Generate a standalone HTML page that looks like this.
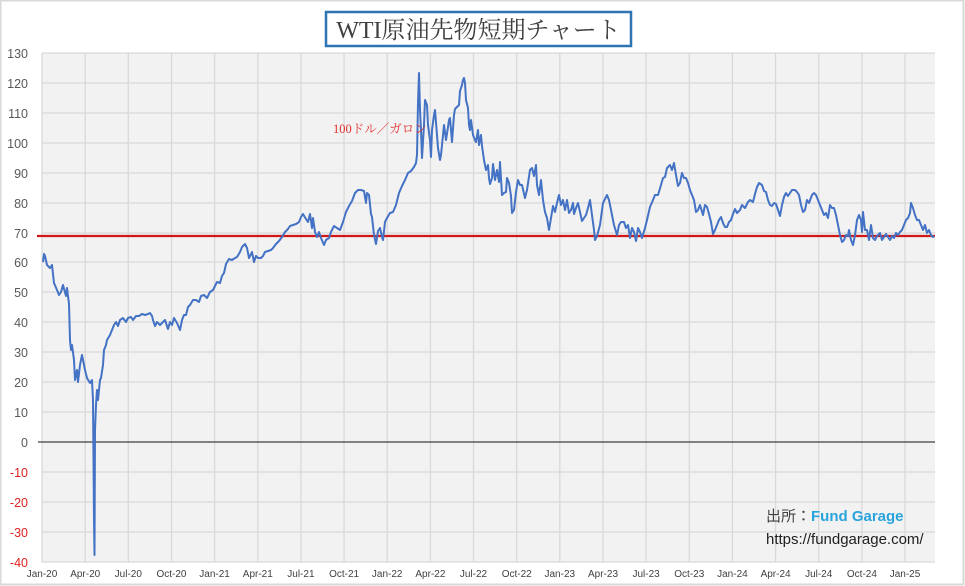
<!DOCTYPE html>
<html><head><meta charset="utf-8"><style>
html,body{margin:0;padding:0;background:#fff;}
svg{display:block;}
</style></head><body>
<svg width="965" height="586" viewBox="0 0 965 586" xmlns="http://www.w3.org/2000/svg">
<rect x="0.5" y="0.5" width="963" height="584" fill="#fff" stroke="#d9d9d9" stroke-width="2"/>
<rect x="42" y="53" width="893" height="509" fill="#f2f2f2"/>
<g stroke="#d9d9d9" stroke-width="1.3">
<line x1="42" y1="53" x2="935" y2="53"/><line x1="42" y1="83" x2="935" y2="83"/><line x1="42" y1="113" x2="935" y2="113"/><line x1="42" y1="143" x2="935" y2="143"/><line x1="42" y1="173" x2="935" y2="173"/><line x1="42" y1="203" x2="935" y2="203"/><line x1="42" y1="233" x2="935" y2="233"/><line x1="42" y1="262" x2="935" y2="262"/><line x1="42" y1="292" x2="935" y2="292"/><line x1="42" y1="322" x2="935" y2="322"/><line x1="42" y1="352" x2="935" y2="352"/><line x1="42" y1="382" x2="935" y2="382"/><line x1="42" y1="412" x2="935" y2="412"/><line x1="42" y1="472" x2="935" y2="472"/><line x1="42" y1="502" x2="935" y2="502"/><line x1="42" y1="532" x2="935" y2="532"/><line x1="42" y1="562" x2="935" y2="562"/>
<line x1="42" y1="53" x2="42" y2="562"/><line x1="85.2" y1="53" x2="85.2" y2="562"/><line x1="128.3" y1="53" x2="128.3" y2="562"/><line x1="171.5" y1="53" x2="171.5" y2="562"/><line x1="214.6" y1="53" x2="214.6" y2="562"/><line x1="257.8" y1="53" x2="257.8" y2="562"/><line x1="300.9" y1="53" x2="300.9" y2="562"/><line x1="344.1" y1="53" x2="344.1" y2="562"/><line x1="387.2" y1="53" x2="387.2" y2="562"/><line x1="430.4" y1="53" x2="430.4" y2="562"/><line x1="473.5" y1="53" x2="473.5" y2="562"/><line x1="516.7" y1="53" x2="516.7" y2="562"/><line x1="559.8" y1="53" x2="559.8" y2="562"/><line x1="603" y1="53" x2="603" y2="562"/><line x1="646.1" y1="53" x2="646.1" y2="562"/><line x1="689.3" y1="53" x2="689.3" y2="562"/><line x1="732.4" y1="53" x2="732.4" y2="562"/><line x1="775.6" y1="53" x2="775.6" y2="562"/><line x1="818.7" y1="53" x2="818.7" y2="562"/><line x1="861.9" y1="53" x2="861.9" y2="562"/><line x1="905" y1="53" x2="905" y2="562"/>
</g>
<line x1="38" y1="442" x2="935" y2="442" stroke="#404040" stroke-width="1.2"/>
<g font-family="Liberation Sans, sans-serif" font-size="12.5" text-anchor="end" fill="#595959">
<text x="28" y="58">130</text><text x="28" y="88">120</text><text x="28" y="118">110</text><text x="28" y="148">100</text><text x="28" y="178">90</text><text x="28" y="208">80</text><text x="28" y="238">70</text><text x="28" y="267">60</text><text x="28" y="297">50</text><text x="28" y="327">40</text><text x="28" y="357">30</text><text x="28" y="387">20</text><text x="28" y="417">10</text><text x="28" y="447">0</text>
<g fill="#e02020"><text x="28" y="477">-10</text><text x="28" y="507">-20</text><text x="28" y="537">-30</text><text x="28" y="567">-40</text></g>
</g>
<g font-family="Liberation Sans, sans-serif" font-size="10" text-anchor="middle" fill="#404040">
<text x="42" y="577">Jan-20</text><text x="85.2" y="577">Apr-20</text><text x="128.3" y="577">Jul-20</text><text x="171.5" y="577">Oct-20</text><text x="214.6" y="577">Jan-21</text><text x="257.8" y="577">Apr-21</text><text x="300.9" y="577">Jul-21</text><text x="344.1" y="577">Oct-21</text><text x="387.2" y="577">Jan-22</text><text x="430.4" y="577">Apr-22</text><text x="473.5" y="577">Jul-22</text><text x="516.7" y="577">Oct-22</text><text x="559.8" y="577">Jan-23</text><text x="603" y="577">Apr-23</text><text x="646.1" y="577">Jul-23</text><text x="689.3" y="577">Oct-23</text><text x="732.4" y="577">Jan-24</text><text x="775.6" y="577">Apr-24</text><text x="818.7" y="577">Jul-24</text><text x="861.9" y="577">Oct-24</text><text x="905" y="577">Jan-25</text>
</g>
<line x1="37" y1="236" x2="935" y2="236" stroke="#d01818" stroke-width="2.2"/>
<polyline fill="none" stroke="#4472c4" stroke-width="2" stroke-linejoin="round" points="43,262 44,254 45,256 47,265 50,268 52,265 54,283 57,290 59,295 61,292 63,285 66,296 67,288 69,304 70,340 71,350 72,345 74,360 75,380 77,370 78,382 80,365 82,355 83,360 85,370 87,378 90,383 92,380 93,400 94,520 94.5,555 95,430 96,405 97,390 98,400 100,380 101,378 103,365 104,350 106,345 107,340 110,335 112,330 114,325 116,322 118,326 120,320 123,318 126,322 128,318 131,317 133,320 136,316 139,316 142,314 145,315 148,314 150,313 152,316 153,320 155,326 157,322 160,325 163,322 165,320 168,329 170,322 172,325 174,318 177,323 180,330 182,320 184,315 186,315 188,307 190,305 193,300 196,300 199,302 201,296 204,295 207,298 210,292 213,290 217,282 220,283 222,276 224,273 226,264 229,259 232,260 235,258 237,257 240,252 242,247 245,244 247,248 249,258 252,252 254,262 256,256 258,258 261,258 263,256 265,252 268,251 271,250 273,248 276,244 279,241 282,237 285,232 288,229 290,226 293,225 296,224 299,222 301,217 303,214 306,219 308,222 310,214 312,228 313,218 315,232 317,237 319,232 321,238 324,245 326,240 329,238 331,232 334,226 337,228 340,230 343,222 346,212 349,206 352,201 355,193 358,190 361,190 364,191 366,203 367,193 369,195 371,214 372,217 374,235 376,244 378,231 380,228 382,237 383,240 385,222 387,218 390,213 393,212 396,205 399,193 402,186 405,180 408,173 411,171 414,167 416,163 417,155 418,103 419,73 420,110 421,130 422,158 424,125 425,100 427,105 428,125 430,140 431,157 432,130 434,115 435,110 437,135 438,148 440,160 441,155 442,145 443,135 444,125 446,140 448,127 449,120 450,118 451,130 452,142 454,115 455,109 457,107 459,105 460,91 462,85 463,80 464,78 465,83 466,100 468,108 469,125 470,130 471,120 473,135 475,140 476,142 478,130 479,145 481,135 482,146 484,160 486,170 488,165 489,178 490,184 492,178 493,164 495,180 497,170 499,182 500,162 502,195 504,193 506,192 507,178 509,183 511,196 512,213 514,210 516,192 518,180 520,185 522,185 525,198 527,190 530,170 532,168 534,176 536,165 537,185 539,195 541,180 543,200 545,212 547,218 549,230 551,218 553,206 555,212 557,203 559,195 561,205 563,200 565,210 567,200 569,213 571,210 573,203 574,214 576,208 578,203 580,212 582,221 584,218 586,215 588,208 590,200 592,215 594,230 595,240 597,236 600,225 603,203 607,195 609,200 611,210 614,225 617,235 619,225 621,222 624,222 626,228 628,225 630,238 632,228 634,232 636,241 638,228 640,232 642,238 645,228 647,220 650,207 653,200 655,195 658,195 661,185 663,178 665,177 667,168 670,165 672,170 674,163 676,175 678,186 680,183 682,173 684,178 686,178 688,183 690,190 692,195 694,200 696,212 698,210 700,205 703,215 705,205 707,207 709,214 711,222 713,234 715,230 717,225 719,220 721,217 723,223 725,227 727,227 729,222 731,220 733,214 735,209 737,213 740,210 742,205 745,208 748,202 750,200 753,202 755,194 757,187 759,183 762,185 764,191 766,192 768,200 770,205 772,206 774,203 776,204 778,210 780,216 782,205 784,197 786,193 788,196 790,193 792,190 795,190 797,192 799,195 801,205 803,212 805,210 807,200 809,203 812,195 814,193 816,195 818,200 820,205 822,210 824,215 826,213 828,218 830,205 832,208 834,208 836,215 838,225 840,235 842,242 844,240 846,235 848,236 849,230 851,240 853,245 855,235 857,220 859,215 861,220 862,232 863,212 865,230 867,230 869,240 871,225 873,238 875,240 877,236 880,233 882,240 884,237 886,234 888,237 890,240 892,236 894,238 896,233 898,235 900,232 902,230 904,225 906,220 908,218 910,213 911,203 913,208 915,215 917,220 919,220 921,225 923,230 925,225 927,233 929,230 931,235 933,237 934,236"/>
<text x="333" y="133" font-family="Liberation Serif, 'Noto Serif CJK SC', serif" font-size="12.5" fill="#e03030">100ドル／ガロン</text>
<rect x="326" y="12" width="305" height="34" fill="#fff" stroke="#2e75b6" stroke-width="2.5"/>
<text x="478.5" y="38" text-anchor="middle" font-family="Liberation Serif, 'Noto Serif CJK JP', serif" font-size="24" fill="#404040">WTI原油先物短期チャート</text>
<text x="766" y="521" font-family="Liberation Sans, 'Noto Sans CJK JP', sans-serif" font-size="15" fill="#404040">出所：<tspan fill="#29a3dc" font-weight="bold">Fund Garage</tspan></text>
<text x="766" y="544" font-family="Liberation Sans, sans-serif" font-size="15" fill="#202020">https://fundgarage.com/</text>
</svg>
</body></html>
